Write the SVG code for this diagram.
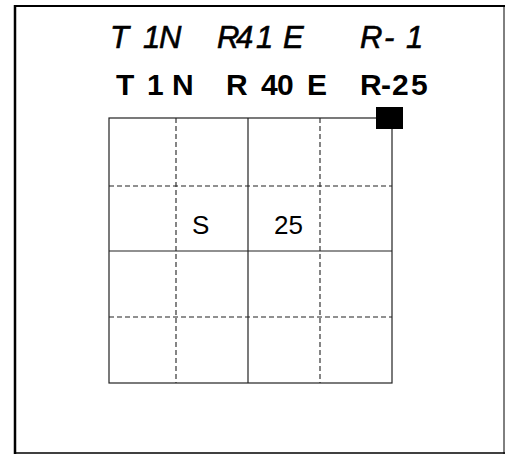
<svg xmlns="http://www.w3.org/2000/svg" width="507" height="455" viewBox="0 0 507 455">
  <style>
    .frame { stroke: #000; fill: none; }
    .solid { stroke: #222; stroke-width: 1.2; fill: none; }
    .dash { stroke: #222; stroke-width: 1.1; stroke-dasharray: 5 3; fill: none; }
    .hand { font-family: "Liberation Sans", "DejaVu Sans", sans-serif; font-style: italic; font-size: 31px; fill: #000; stroke: #000; stroke-width: 0.6; }
    .title { font-family: "Liberation Sans", Arial, sans-serif; font-weight: bold; font-size: 30px; fill: #000; }
    .label { font-family: "Liberation Sans", Arial, sans-serif; font-size: 26px; fill: #000; }
  </style>
  <rect width="507" height="455" fill="#fff"/>
  <g id="frame">
    <line class="frame" x1="15" y1="5" x2="15" y2="454" stroke-width="2.5"/>
    <line class="frame" x1="14" y1="6" x2="505" y2="6" stroke-width="2"/>
    <line class="frame" x1="504" y1="5" x2="504" y2="454" stroke-width="1" stroke="#555"/>
    <line class="frame" x1="15" y1="453" x2="505" y2="453" stroke-width="1.5"/>
  </g>
  <g id="handwritten-label">
    <text class="hand" x="110 143 159 217 236 256 283 360 384 406" y="48">T1NR41ER-1</text>
  </g>
  <g id="title">
    <text class="title" x="116 147 172 226 261 277 307 360 381 392 411" y="95">T1NR40ER-25</text>
  </g>
  <g id="grid">
    <rect class="solid" x="109" y="118" width="283" height="265"/>
    <line class="solid" x1="248" y1="118" x2="248" y2="383"/>
    <line class="solid" x1="109" y1="251" x2="392" y2="251"/>
    <line class="dash" x1="176" y1="118" x2="176" y2="383"/>
    <line class="dash" x1="320" y1="118" x2="320" y2="383"/>
    <line class="dash" x1="109" y1="186" x2="392" y2="186"/>
    <line class="dash" x1="109" y1="317" x2="392" y2="317"/>
  </g>
  <g id="marker">
    <rect x="376" y="107" width="27" height="22" fill="#000"/>
  </g>
  <g id="labels">
    <text class="label" x="192" y="234">S</text>
    <text class="label" x="274" y="234">25</text>
  </g>
</svg>
